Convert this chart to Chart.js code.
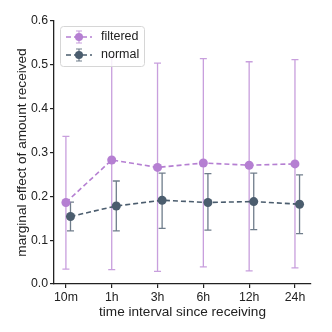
<!DOCTYPE html>
<html>
<head>
<meta charset="utf-8">
<script src="https://cdn.jsdelivr.net/npm/chart.js@4"></script>
<style>
  html, body { margin: 0; padding: 0; background: #fff; }
  #wrap { width: 332px; height: 332px; }
</style>
</head>
<body>
<div id="wrap"><canvas id="chart" width="332" height="332"></canvas></div>
<script>
// ---- Data ----
const categories = ['10m', '1h', '3h', '6h', '12h', '24h'];
const yTicks = [0, 0.1, 0.2, 0.3, 0.4, 0.5, 0.6];

const filteredMean = [0.186, 0.283, 0.266, 0.276, 0.271, 0.274];
const filteredLow  = [0.034, 0.033, 0.029, 0.039, 0.030, 0.037];
const filteredHigh = [0.337, 0.520, 0.504, 0.514, 0.507, 0.512];

const normalMean = [0.154, 0.178, 0.191, 0.186, 0.188, 0.182];
const normalLow  = [0.121, 0.121, 0.127, 0.123, 0.124, 0.115];
const normalHigh = [0.187, 0.235, 0.253, 0.252, 0.253, 0.249];

const FILTERED = '#b57fd2';
const FILTERED_BAR = 'rgba(181, 127, 210, 0.75)';
const NORMAL = '#4b5d6e';
const NORMAL_BAR = 'rgba(75, 93, 110, 0.8)';
const FONT = '"Liberation Sans", Arial, sans-serif';

// ---- Series ----
const series = [
  { label: 'filtered', mean: filteredMean, low: filteredLow, high: filteredHigh, dx: 0, color: FILTERED, bar: FILTERED_BAR },
  { label: 'normal', mean: normalMean, low: normalLow, high: normalHigh, dx: 0.1, color: NORMAL, bar: NORMAL_BAR }
];

// ---- Error bars plugin ----
const errorBars = {
  id: 'errorBars',
  beforeDatasetsDraw(chart) {
    const { ctx, scales: { x, y } } = chart;
    ctx.save();
    ctx.lineWidth = 1.3;
    series.forEach(s => {
      ctx.strokeStyle = s.bar;
      s.mean.forEach((m, i) => {
        const px = x.getPixelForValue(i + s.dx);
        const top = y.getPixelForValue(s.high[i]);
        const bot = y.getPixelForValue(s.low[i]);
        ctx.beginPath();
        ctx.moveTo(px, top); ctx.lineTo(px, bot);
        ctx.moveTo(px - 3.5, top); ctx.lineTo(px + 3.5, top);
        ctx.moveTo(px - 3.5, bot); ctx.lineTo(px + 3.5, bot);
        ctx.stroke();
      });
    });
    ctx.restore();
  }
};

// ---- Legend plugin ----
const legendBox = {
  id: 'legendBox',
  afterDraw(chart) {
    const { ctx, chartArea } = chart;
    const left = chartArea.left + 6, top = chartArea.top + 5;
    const w = 84, h = 40;
    ctx.save();
    ctx.fillStyle = 'rgba(255,255,255,0.85)';
    ctx.strokeStyle = '#d6d6d6';
    ctx.lineWidth = 1;
    ctx.beginPath();
    ctx.roundRect(left + 0.5, top + 0.5, w, h, 3);
    ctx.fill();
    ctx.stroke();
    series.forEach((s, i) => {
      const cy = top + 11 + i * 18;
      const x0 = left + 6, x1 = left + 32, cx = (x0 + x1) / 2;
      ctx.strokeStyle = s.color;
      ctx.lineWidth = 1.5;
      ctx.setLineDash([5, 3]);
      ctx.beginPath(); ctx.moveTo(x0, cy); ctx.lineTo(x1, cy); ctx.stroke();
      ctx.setLineDash([]);
      ctx.strokeStyle = s.bar;
      ctx.lineWidth = 1.2;
      ctx.beginPath();
      ctx.moveTo(cx, cy - 6); ctx.lineTo(cx, cy + 6);
      ctx.moveTo(cx - 3, cy - 6); ctx.lineTo(cx + 3, cy - 6);
      ctx.moveTo(cx - 3, cy + 6); ctx.lineTo(cx + 3, cy + 6);
      ctx.stroke();
      ctx.fillStyle = s.color;
      ctx.beginPath(); ctx.arc(cx, cy, 4, 0, Math.PI * 2); ctx.fill();
      ctx.fillStyle = '#222';
      ctx.font = '12.5px ' + FONT;
      ctx.textBaseline = 'middle';
      ctx.fillText(s.label, left + 41, cy);
    });
    ctx.restore();
  }
};

// ---- Chart ----
const ctx = document.getElementById('chart');
new Chart(ctx, {
  type: 'line',
  data: {
    datasets: series.slice().reverse().map(s => ({
      label: s.label,
      data: s.mean.map((v, i) => ({ x: i + s.dx, y: v })),
      borderColor: s.color,
      backgroundColor: s.color,
      borderWidth: 1.6,
      borderDash: [5, 3],
      pointRadius: 4.5,
      pointBorderWidth: 0,
      pointBackgroundColor: s.color,
      fill: false,
      tension: 0
    }))
  },
  options: {
    responsive: false,
    animation: false,
    layout: { padding: { top: 21, right: 21, left: 14, bottom: 12 } },
    plugins: { legend: { display: false }, tooltip: { enabled: false } },
    scales: {
      x: {
        type: 'linear',
        min: -0.26,
        max: 5.35,
        afterBuildTicks: axis => { axis.ticks = categories.map((c, i) => ({ value: i })); },
        afterFit: axis => { axis.height = 36; },
        ticks: {
          callback: v => categories[v],
          color: '#222',
          font: { family: FONT, size: 12.3 },
          padding: 2,
          maxRotation: 0
        },
        grid: { drawOnChartArea: false, drawTicks: true, tickLength: 4, color: '#222', lineWidth: 1.2 },
        border: { display: true, color: '#222', width: 1.3 },
        title: { display: true, text: 'time interval since receiving', color: '#222', font: { family: FONT, size: 13.6 }, padding: { top: 0, bottom: 0 } }
      },
      y: {
        min: 0,
        max: 0.6,
        afterBuildTicks: axis => { axis.ticks = yTicks.map(v => ({ value: v })); },
        afterFit: axis => { axis.width = 40; },
        ticks: {
          callback: v => v.toFixed(1),
          color: '#222',
          font: { family: FONT, size: 12.3 },
          padding: 2
        },
        grid: { drawOnChartArea: false, drawTicks: true, tickLength: 4, color: '#222', lineWidth: 1.2 },
        border: { display: true, color: '#222', width: 1.3 },
        title: { display: true, text: 'marginal effect of amount received', color: '#222', font: { family: FONT, size: 13.6 }, padding: { top: 0, bottom: 0 } }
      }
    }
  },
  plugins: [errorBars, legendBox]
});
</script>
</body>
</html>
